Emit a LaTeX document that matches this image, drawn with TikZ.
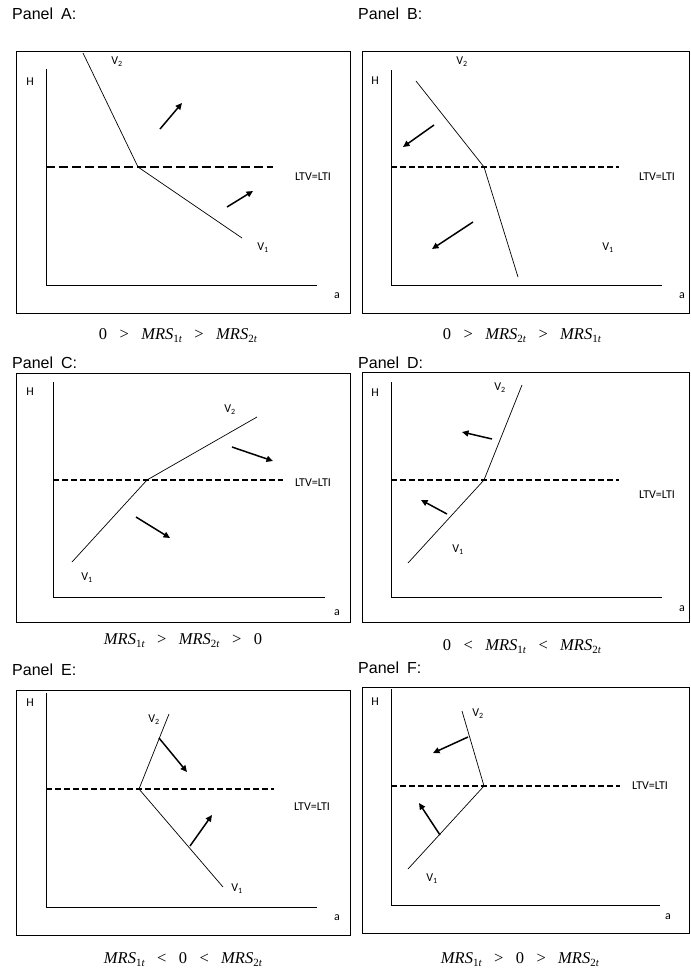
\documentclass[tikz,border=0pt]{standalone}
\usepackage{fontspec}
\setmainfont{Liberation Serif}
\newfontfamily\arialf{Liberation Sans}
\newfontfamily\calib{Carlito}
\usetikzlibrary{arrows.meta}

% marginal rate of substitution with a two-part subscript
\newcommand{\mrsq}[1]{\textit{MRS}\raisebox{-0.22em}{\fontsize{11}{11}\selectfont #1\textit{t}}}
\newcommand{\rel}[1]{\hspace{0.75em}#1\hspace{0.75em}}

\tikzset{
  frame/.style={draw, line width=0.8pt},
  axisline/.style={line width=0.8pt},
  vline/.style={line width=0.7pt},
  ltvline/.style={line width=1.5pt, dash pattern=on 6pt off 3pt},
  ltvthick/.style={line width=2pt, dash pattern=on 9pt off 4pt},
  shift arrow/.style={line width=1.5pt, -{Triangle[length=6.5pt,width=6pt]}},
  paneltitle/.style={font=\arialf\fontsize{16}{18}\selectfont, anchor=base west, inner sep=0pt},
  lbl/.style={font=\calib\fontsize{12}{14}\selectfont, inner sep=0pt},
  captxt/.style={font=\fontsize{16.5}{18}\selectfont, inner sep=0pt, anchor=base},
}

\begin{document}
\begin{tikzpicture}[x=1pt,y=-1pt]
\useasboundingbox (0,0) rectangle (691,970);
\fill[white] (0,0) rectangle (691,970);

%% ---------------- Panel A ----------------
\node[paneltitle] (tA) at (12,19.5) {Panel\hspace{0.5em}A:};
\draw[frame] (16,51) rectangle (350,313);
\coordinate (Ao) at (46,285);
\coordinate (Ay) at (46,69);
\coordinate (Ax) at (317,285);
\draw[axisline] (Ay) -- (Ao) -- (Ax);
\node[lbl] (AH) at (30,82) {H};
\node[lbl] (Aa) at (337,296) {a};
\coordinate (Al0) at (46,167);
\coordinate (Al1) at (273,167);
\draw[ltvthick] (Al0) -- (Al1);
\node[lbl] (Altv) at (313,177) {LTV=LTI};
\coordinate (Ak) at (138,167);
\coordinate (Av2) at (83,53);
\coordinate (Av1) at (242,238);
\draw[vline] (Av2) -- (Ak) -- (Av1);
\node[lbl] (AV2) at (117,62) {V\textsubscript{2}};
\node[lbl] (AV1) at (263,248) {V\textsubscript{1}};
\coordinate (Aa1) at (160,129); \coordinate (Ab1) at (182,103);
\coordinate (Aa2) at (227,207); \coordinate (Ab2) at (253,191);
\draw[shift arrow] (Aa1) -- (Ab1);
\draw[shift arrow] (Aa2) -- (Ab2);
\node[captxt] (Acap) at (178,339) {0\rel{>}\mrsq{1}\rel{>}\mrsq{2}};

%% ---------------- Panel B ----------------
\node[paneltitle] (tB) at (358,19.5) {Panel\hspace{0.5em}B:};
\draw[frame] (362,51) rectangle (689,313);
\coordinate (Bo) at (391,285);
\coordinate (By) at (391,70);
\coordinate (Bx) at (662,285);
\draw[axisline] (By) -- (Bo) -- (Bx);
\node[lbl] (BH) at (375,81) {H};
\node[lbl] (Ba) at (682,296) {a};
\coordinate (Bl0) at (391,167);
\coordinate (Bl1) at (619,167);
\draw[ltvline] (Bl0) -- (Bl1);
\node[lbl] (Bltv) at (657,177) {LTV=LTI};
\coordinate (Bk) at (484,167);
\coordinate (Bv2) at (416,81);
\coordinate (Bv1) at (518,277);
\draw[vline] (Bv2) -- (Bk) -- (Bv1);
\node[lbl] (BV2) at (462,62) {V\textsubscript{2}};
\node[lbl] (BV1) at (608,248) {V\textsubscript{1}};
\coordinate (Ba1) at (434,125); \coordinate (Bb1) at (403,147);
\coordinate (Ba2) at (473,222); \coordinate (Bb2) at (432,249);
\draw[shift arrow] (Ba1) -- (Bb1);
\draw[shift arrow] (Ba2) -- (Bb2);
\node[captxt] (Bcap) at (522,339) {0\rel{>}\mrsq{2}\rel{>}\mrsq{1}};

%% ---------------- Panel C ----------------
\node[paneltitle] (tC) at (12,368) {Panel\hspace{0.5em}C:};
\draw[frame] (16,373) rectangle (350,622);
\coordinate (Co) at (53,597);
\coordinate (Cy) at (53,382);
\coordinate (Cx) at (325,597);
\draw[axisline] (Cy) -- (Co) -- (Cx);
\node[lbl] (CH) at (30,392) {H};
\node[lbl] (Ca) at (337,613) {a};
\coordinate (Cl0) at (53,480);
\coordinate (Cl1) at (283,480);
\draw[ltvline] (Cl0) -- (Cl1);
\node[lbl] (Cltv) at (313,483) {LTV=LTI};
\coordinate (Ck) at (147,480);
\coordinate (Cv1) at (72,562);
\coordinate (Cv2) at (257,417);
\draw[vline] (Cv1) -- (Ck) -- (Cv2);
\node[lbl] (CV2) at (230,410) {V\textsubscript{2}};
\node[lbl] (CV1) at (87,578) {V\textsubscript{1}};
\coordinate (Ca1) at (232,447); \coordinate (Cb1) at (273,461);
\coordinate (Ca2) at (136,517); \coordinate (Cb2) at (170,538);
\draw[shift arrow] (Ca1) -- (Cb1);
\draw[shift arrow] (Ca2) -- (Cb2);
\node[captxt] (Ccap) at (183,644) {\mrsq{1}\rel{>}\mrsq{2}\rel{>}0};

%% ---------------- Panel D ----------------
\node[paneltitle] (tD) at (358,368) {Panel\hspace{0.5em}D:};
\draw[frame] (362,372) rectangle (689,622);
\coordinate (Do) at (391,597);
\coordinate (Dy) at (391,382);
\coordinate (Dx) at (662,597);
\draw[axisline] (Dy) -- (Do) -- (Dx);
\node[lbl] (DH) at (375,393) {H};
\node[lbl] (Da) at (682,609) {a};
\coordinate (Dl0) at (391,480);
\coordinate (Dl1) at (619,480);
\draw[ltvline] (Dl0) -- (Dl1);
\node[lbl] (Dltv) at (657,495) {LTV=LTI};
\coordinate (Dk) at (484,480);
\coordinate (Dv1) at (408,563);
\coordinate (Dv2) at (522,385);
\draw[vline] (Dv1) -- (Dk) -- (Dv2);
\node[lbl] (DV2) at (500,388) {V\textsubscript{2}};
\node[lbl] (DV1) at (458,550) {V\textsubscript{1}};
\coordinate (Da1) at (492,439); \coordinate (Db1) at (462,432);
\coordinate (Da2) at (447,514); \coordinate (Db2) at (421,500);
\draw[shift arrow] (Da1) -- (Db1);
\draw[shift arrow] (Da2) -- (Db2);
\node[captxt] (Dcap) at (522,650) {0\rel{<}\mrsq{1}\rel{<}\mrsq{2}};

%% ---------------- Panel E ----------------
\node[paneltitle] (tE) at (12,675) {Panel\hspace{0.5em}E:};
\draw[frame] (16,690) rectangle (350,935);
\coordinate (Eo) at (46,907);
\coordinate (Ey) at (46,693);
\coordinate (Ex) at (317,907);
\draw[axisline] (Ey) -- (Eo) -- (Ex);
\node[lbl] (EH) at (30,703) {H};
\node[lbl] (Ea) at (337,918) {a};
\coordinate (El0) at (46,789);
\coordinate (El1) at (274,789);
\draw[ltvline] (El0) -- (El1);
\node[lbl] (Eltv) at (312,807) {LTV=LTI};
\coordinate (Ek) at (139,789);
\coordinate (Ev2) at (169,714);
\coordinate (Ev1) at (223,887);
\draw[vline] (Ev2) -- (Ek) -- (Ev1);
\node[lbl] (EV2) at (154,720) {V\textsubscript{2}};
\node[lbl] (EV1) at (237,889) {V\textsubscript{1}};
\coordinate (Ea1) at (159,738); \coordinate (Eb1) at (187,772);
\coordinate (Ea2) at (190,846); \coordinate (Eb2) at (212,815);
\draw[shift arrow] (Ea1) -- (Eb1);
\draw[shift arrow] (Ea2) -- (Eb2);
\node[captxt] (Ecap) at (183,963) {\mrsq{1}\rel{<}0\rel{<}\mrsq{2}};

%% ---------------- Panel F ----------------
\node[paneltitle] (tF) at (358,673) {Panel\hspace{0.5em}F:};
\draw[frame] (362,687) rectangle (689,933);
\coordinate (Fo) at (391,905);
\coordinate (Fy) at (391,689);
\coordinate (Fx) at (660,905);
\draw[axisline] (Fy) -- (Fo) -- (Fx);
\node[lbl] (FH) at (375,702) {H};
\node[lbl] (Fa) at (668,917) {a};
\coordinate (Fl0) at (391,786);
\coordinate (Fl1) at (620,786);
\draw[ltvline] (Fl0) -- (Fl1);
\node[lbl] (Fltv) at (650,786) {LTV=LTI};
\coordinate (Fk) at (484,786);
\coordinate (Fv2) at (462,711);
\coordinate (Fv1) at (408,869);
\draw[vline] (Fv2) -- (Fk) -- (Fv1);
\node[lbl] (FV2) at (478,714) {V\textsubscript{2}};
\node[lbl] (FV1) at (432,879) {V\textsubscript{1}};
\coordinate (Fa1) at (468,737); \coordinate (Fb1) at (433,753);
\coordinate (Fa2) at (440,835); \coordinate (Fb2) at (419,803);
\draw[shift arrow] (Fa1) -- (Fb1);
\draw[shift arrow] (Fa2) -- (Fb2);
\node[captxt] (Fcap) at (520,963) {\mrsq{1}\rel{>}0\rel{>}\mrsq{2}};
\end{tikzpicture}
\end{document}
